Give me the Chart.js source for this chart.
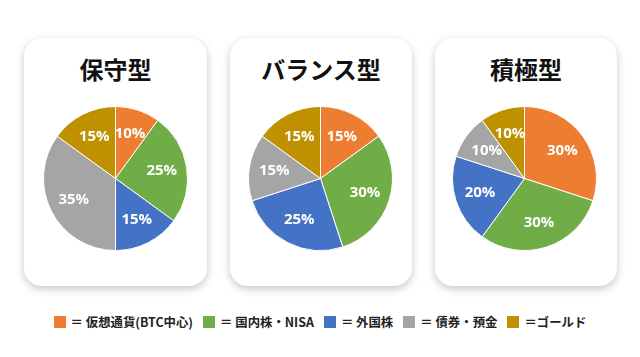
<!DOCTYPE html>
<html><head><meta charset="utf-8">
<script src="https://cdn.jsdelivr.net/npm/chart.js@4/dist/chart.umd.min.js"></script>
<style>
html,body{margin:0;padding:0;background:#fff;width:640px;height:357px;overflow:hidden;font-family:"Noto Sans CJK JP","Noto Sans",sans-serif;}
.card{position:absolute;background:#fff;border-radius:18px;box-shadow:0 3px 9px rgba(0,0,0,0.22);}
.title{position:absolute;left:0;right:0;text-align:center;font-weight:bold;font-size:24px;color:#111;}
.pie{position:absolute;}
#legend{position:absolute;left:0;width:640px;top:313px;display:flex;justify-content:center;align-items:center;font-size:12.4px;font-weight:bold;color:#222;white-space:nowrap;}
.li{display:flex;align-items:center;margin:0 5px;}
.sw{width:12px;height:12px;margin-right:5px;}
</style></head>
<body>
<div id="wrap"></div>
<div id="legend"></div>
<script>
const categories = ["＝ 仮想通貨(BTC中心)", "＝ 国内株・NISA", "＝ 外国株", "＝ 債券・預金", "＝ゴールド"];
const titles = ["保守型", "バランス型", "積極型"];
const conservative = [10, 25, 15, 35, 15];
const balanced = [15, 30, 25, 15, 15];
const aggressive = [30, 30, 20, 10, 10];
const colors = ["#ED7D31", "#70AD47", "#4472C4", "#A5A5A5", "#BF9000"];

const seriesList = [conservative, balanced, aggressive];
const cards = [
  {x:24, w:183, cx:115, cy:178},
  {x:230, w:182, cx:320.5, cy:178},
  {x:435, w:182, cx:524, cy:178}
];
const cardTop = 38, cardH = 248;

const labelPlugin = {
  id: 'pctLabels',
  afterDatasetsDraw(chart) {
    const ctx = chart.ctx;
    const meta = chart.getDatasetMeta(0);
    const data = chart.data.datasets[0].data;
    ctx.save();
    ctx.fillStyle = '#fff';
    ctx.font = 'bold 15px "Open Sans", sans-serif';
    ctx.textAlign = 'center';
    ctx.textBaseline = 'middle';
    meta.data.forEach((arc, i) => {
      const p = arc.getProps(['x','y','startAngle','endAngle','outerRadius'], true);
      const mid = (p.startAngle + p.endAngle) / 2;
      const r = p.outerRadius * 0.65;
      ctx.fillText(data[i] + '%', p.x + Math.cos(mid) * r, p.y + Math.sin(mid) * r);
    });
    ctx.restore();
  }
};

const wrap = document.getElementById('wrap');
const size = 145;
cards.forEach((c, k) => {
  const card = document.createElement('div');
  card.className = 'card';
  card.style.left = c.x + 'px'; card.style.top = cardTop + 'px';
  card.style.width = c.w + 'px'; card.style.height = cardH + 'px';
  const t = document.createElement('div');
  t.className = 'title'; t.textContent = titles[k];
  t.style.top = '13px';
  card.appendChild(t);
  wrap.appendChild(card);
  const cv = document.createElement('canvas');
  cv.className = 'pie';
  cv.width = size; cv.height = size;
  cv.style.width = size + 'px'; cv.style.height = size + 'px';
  cv.style.left = (c.cx - size/2) + 'px';
  cv.style.top = (c.cy - size/2) + 'px';
  document.body.appendChild(cv);
  new Chart(cv, {
    type: 'pie',
    data: {
      labels: categories,
      datasets: [{ data: seriesList[k], backgroundColor: colors, borderColor: '#fff', borderWidth: 1, hoverOffset: 0 }]
    },
    options: {
      responsive: false,
      animation: false,
      events: [],
      layout: { padding: 0 },
      plugins: { legend: { display: false }, tooltip: { enabled: false } }
    },
    plugins: [labelPlugin]
  });
});

const lg = document.getElementById('legend');
categories.forEach((name, i) => {
  const it = document.createElement('div'); it.className = 'li';
  const sw = document.createElement('span'); sw.className = 'sw'; sw.style.background = colors[i];
  const tx = document.createElement('span'); tx.textContent = name;
  it.appendChild(sw); it.appendChild(tx); lg.appendChild(it);
});
</script>
</body></html>
